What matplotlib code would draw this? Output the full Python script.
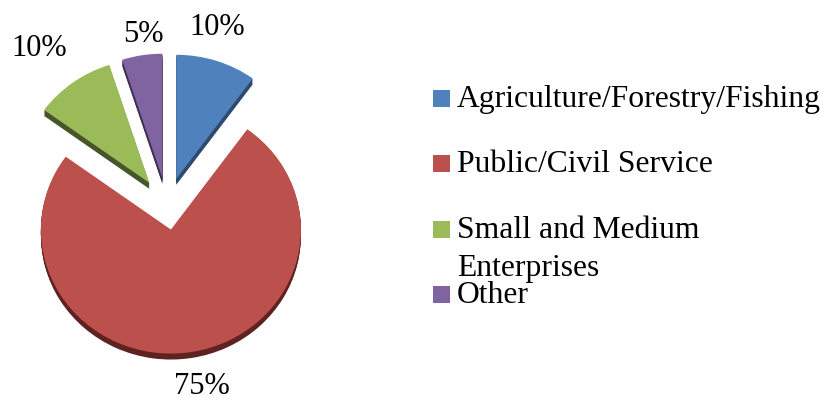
import matplotlib.pyplot as plt
import numpy as np
from matplotlib.patches import Rectangle

# data
sectors = ["Agriculture/Forestry/Fishing", "Public/Civil Service",
           "Small and Medium\nEnterprises", "Other"]
shares = [10, 75, 10, 5]
pct_labels = ["10%", "75%", "10%", "5%"]

face = ["#4F81BD", "#BC504D", "#9BBB59", "#8064A2"]
side = ["#2E4A6E", "#5E2321", "#46552A", "#3E3053"]
R = 130
explode = [30, 25, 30, 30]   # absolute offsets (pie uses data units)
label_dist = [185, 184, 203, 173]
label_turn = [2.3, 2, 3.2, -1]

plt.rcParams['font.family'] = ['Liberation Serif', 'DejaVu Serif']

W, H = 830, 401
sy = 130 / 124.0   # squash for the tilted look
fig = plt.figure(figsize=(W / 100, H / 100), dpi=100)
ax = fig.add_axes([0, 0, 1, 1])

cx, cy = 167, (H - 206) * sy

# fake 3d depth: stack darker copies below
for k in range(6, 0, -1):
    ax.pie(shares, explode=explode, colors=side, startangle=90,
           counterclock=False, radius=R, center=(cx, cy - k * sy),
           wedgeprops=dict(linewidth=0))
wedges, _ = ax.pie(shares, explode=explode, colors=face, startangle=90,
                   counterclock=False, radius=R, center=(cx, cy),
                   wedgeprops=dict(linewidth=0))

for w, lab, d, da in zip(wedges, pct_labels, label_dist, label_turn):
    mid = np.deg2rad((w.theta1 + w.theta2) / 2 + da)
    ax.text(cx + d * np.cos(mid), cy + d * np.sin(mid) * sy, lab,
            ha='center', va='center', fontsize=22)

# legend
for i, (name, col) in enumerate(zip(sectors, face)):
    base = 107 + 65.3 * i
    ax.add_patch(Rectangle((433, (H - base) * sy), 17, 17 * sy,
                           facecolor=col, linewidth=0))
    for j, line in enumerate(name.split("\n")):
        ax.text(457, (H - base - 38 * j) * sy, line, ha='left',
                va='baseline', fontsize=22.8)

ax.set_xlim(0, W)
ax.set_ylim(0, H * sy)
ax.set_aspect('auto')
ax.axis('off')

fig.savefig("out.png", dpi=100)
